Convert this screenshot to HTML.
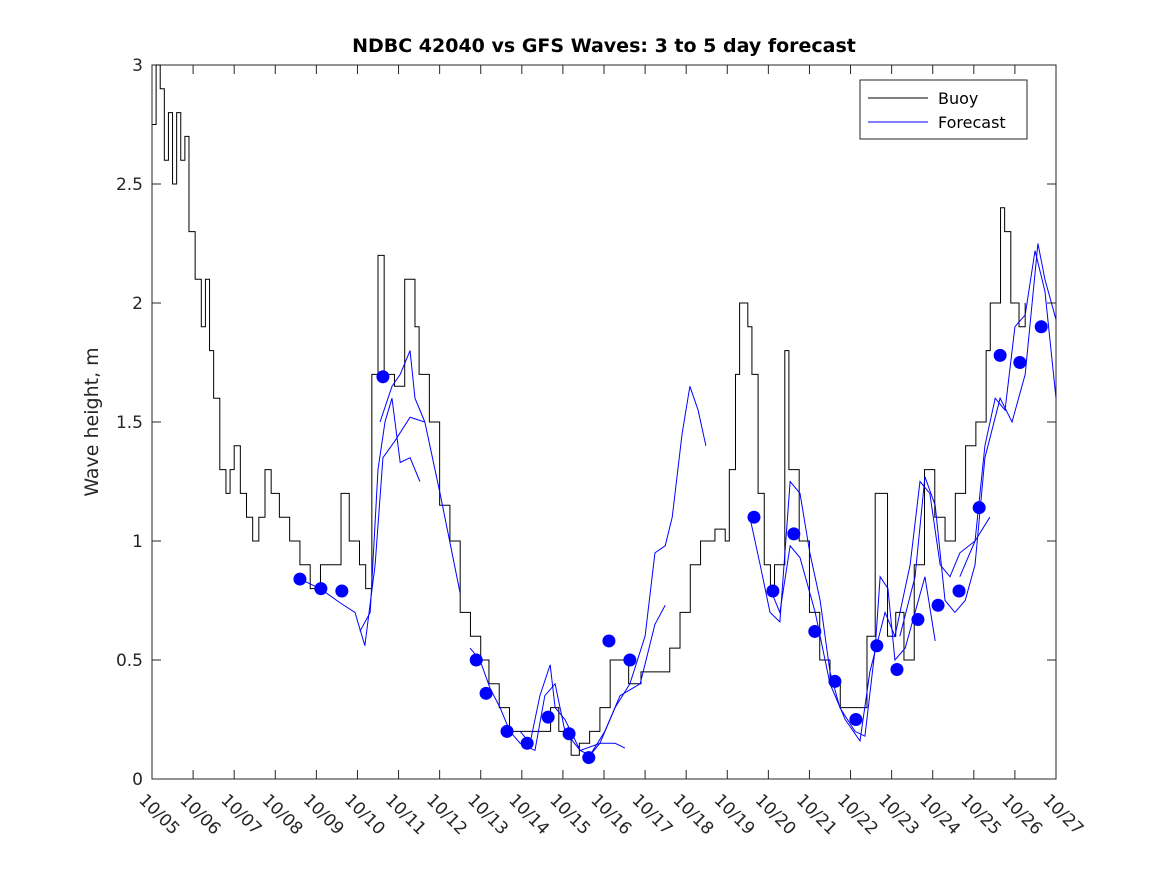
<!DOCTYPE html>
<html><head><meta charset="utf-8"><style>
html,body{margin:0;padding:0;background:#fff;}
svg{display:block;font-family:"DejaVu Sans","Liberation Sans",sans-serif;}
</style></head><body>
<svg id="chart" width="1167" height="875" viewBox="0 0 1167 875">
<rect x="0" y="0" width="1167" height="875" fill="#fff"/>
<text x="604" y="52" text-anchor="middle" font-size="19" font-weight="bold" fill="#000">NDBC 42040 vs GFS Waves: 3 to 5 day forecast</text>
<text transform="translate(98,422) rotate(-90)" text-anchor="middle" font-size="19" fill="#262626">Wave height, m</text>
<g id="plot"></g>
</svg>
<script>
const tickLabels=["10/05","10/06","10/07","10/08","10/09","10/10","10/11","10/12","10/13","10/14","10/15","10/16","10/17","10/18","10/19","10/20","10/21","10/22","10/23","10/24","10/25","10/26","10/27"];
const yTicks=[0,0.5,1,1.5,2,2.5,3];
const yTickLabels=["0","0.5","1","1.5","2","2.5","3"];
const buoyDays=[0,0.1,0.2,0.3,0.4,0.5,0.6,0.7,0.8,0.9,1.05,1.2,1.3,1.4,1.5,1.65,1.8,1.9,2.0,2.15,2.3,2.45,2.6,2.75,2.9,3.1,3.35,3.6,3.85,4.1,4.3,4.6,4.8,5.05,5.2,5.35,5.5,5.65,5.9,6.15,6.4,6.5,6.75,7.0,7.25,7.5,7.75,8.0,8.2,8.45,8.7,8.95,9.45,9.7,9.9,10.2,10.4,10.65,10.9,11.15,11.4,11.6,11.9,12.4,12.6,12.85,13.1,13.35,13.7,13.95,14.05,14.2,14.3,14.5,14.6,14.75,14.9,15.05,15.15,15.4,15.5,15.75,16.0,16.25,16.5,16.75,17.0,17.2,17.4,17.6,17.75,17.9,18.1,18.3,18.55,18.8,19.05,19.3,19.55,19.8,20.05,20.3,20.4,20.65,20.75,20.9,21.1,21.25];
const buoyVals=[2.75,3.0,2.9,2.6,2.8,2.5,2.8,2.6,2.7,2.3,2.1,1.9,2.1,1.8,1.6,1.3,1.2,1.3,1.4,1.2,1.1,1.0,1.1,1.3,1.2,1.1,1.0,0.9,0.8,0.9,0.9,1.2,1.0,0.9,0.8,1.7,2.2,1.7,1.65,2.1,1.9,1.7,1.5,1.15,1.0,0.7,0.6,0.5,0.4,0.3,0.2,0.2,0.2,0.3,0.2,0.1,0.15,0.2,0.3,0.5,0.5,0.4,0.45,0.45,0.55,0.7,0.9,1.0,1.05,1.0,1.3,1.7,2.0,1.9,1.7,1.2,0.9,0.8,0.9,1.8,1.3,1.0,0.7,0.5,0.4,0.3,0.3,0.3,0.6,1.2,1.2,0.6,0.7,0.5,0.9,1.3,1.1,1.0,1.2,1.4,1.5,1.8,2.0,2.4,2.3,2.0,1.9,2.0];
const fcADays=[3.60,4.09,4.58,4.94,5.18,5.43,5.62,5.91,6.28,6.64,7.01,7.50];
const fcAVals=[0.84,0.80,0.74,0.70,0.56,0.90,1.35,1.42,1.52,1.50,1.20,0.78];
const fcBDays=[5.06,5.31,5.50,5.67,5.84,6.04,6.28,6.52];
const fcBVals=[0.62,0.70,1.30,1.50,1.60,1.33,1.35,1.25];
const fcCDays=[5.55,5.84,6.04,6.28,6.40,6.64];
const fcCVals=[1.50,1.65,1.70,1.80,1.60,1.50];
const fcDDays=[7.74,7.98,8.23,8.47,8.71,8.96,9.32,9.56,9.81,10.05,10.42,10.66,10.90,11.27,11.51];
const fcDVals=[0.55,0.50,0.38,0.30,0.20,0.15,0.12,0.35,0.40,0.20,0.12,0.10,0.15,0.15,0.13];
const fcEDays=[8.96,9.20,9.44,9.69,9.81,10.05,10.42,10.90,11.27,11.63,12.00,12.24,12.49,12.66,12.90,13.09,13.29,13.48];
const fcEVals=[0.20,0.15,0.35,0.48,0.30,0.25,0.12,0.15,0.30,0.40,0.60,0.95,0.98,1.10,1.45,1.65,1.55,1.40];
const fcFDays=[10.66,11.02,11.39,11.88,12.24,12.49];
const fcFVals=[0.10,0.20,0.35,0.40,0.65,0.73];
const fcGDays=[14.55,14.80,15.04,15.28,15.53,15.77,16.01,16.26,16.50,16.74,17.11,17.35,17.60,17.72,17.91,18.08,18.33,18.57,18.81,19.06];
const fcGVals=[1.10,0.90,0.70,0.66,1.25,1.20,0.95,0.75,0.45,0.30,0.20,0.18,0.55,0.85,0.80,0.50,0.55,0.70,0.85,0.58];
const fcHDays=[15.04,15.28,15.53,15.77,16.14,16.50,16.87,17.23,17.47,17.84,18.08,18.45,18.69,18.93,19.18,19.42,19.66,20.03,20.27,20.52,20.76,21.00,21.25,21.49,21.73,22.0];
const fcHVals=[0.80,0.70,0.98,0.93,0.70,0.40,0.25,0.16,0.45,0.70,0.60,0.90,1.25,1.20,0.90,0.85,0.95,1.00,1.40,1.60,1.55,1.90,1.95,2.22,2.05,1.60];
const fcIDays=[18.20,18.57,18.81,19.06,19.30,19.54,19.79,20.03,20.27,20.64,20.93,21.25,21.56,21.73,22.0];
const fcIVals=[0.60,0.85,1.27,1.15,0.75,0.70,0.75,0.90,1.35,1.60,1.50,1.70,2.25,2.10,1.93];
const fcJDays=[19.66,20.03,20.39];
const fcJVals=[0.85,1.00,1.10];
const dotDays=[3.60,4.11,4.62,5.62,7.89,8.13,8.64,9.13,9.64,10.15,10.63,11.12,11.63,14.65,15.11,15.62,16.13,16.62,17.13,17.64,18.13,18.64,19.13,19.64,20.13,20.64,21.12,21.64];
const dotVals=[0.84,0.80,0.79,1.69,0.50,0.36,0.20,0.15,0.26,0.19,0.09,0.58,0.50,1.10,0.79,1.03,0.62,0.41,0.25,0.56,0.46,0.67,0.73,0.79,1.14,1.78,1.75,1.90];

const X0=152,X1=1056,Y0=779,Y1=65;
const xs=d=>X0+d*(X1-X0)/22;
const ys=v=>Y0-v*(Y0-Y1)/3;
const NS="http://www.w3.org/2000/svg";
const g=document.getElementById('plot');
function mk(t,a){const e=document.createElementNS(NS,t);for(const k in a)e.setAttribute(k,a[k]);g.appendChild(e);return e;}

const frame=mk('rect',{x:X0,y:Y1,width:X1-X0,height:Y0-Y1,fill:'none',stroke:'#262626','stroke-width':1});


tickLabels.forEach((lab,i)=>{
  const x=xs(i);
  const t1=mk('line',{x1:x,y1:Y0,x2:x,y2:Y0-9,stroke:'#262626'});
  
  
  const t2=mk('line',{x1:x,y1:Y1,x2:x,y2:Y1+9,stroke:'#262626'});
  
  
  const tx=mk('text',{transform:`translate(${x-14},${Y0+22}) rotate(45)`,'font-size':17,fill:'#262626'});
  tx.textContent=lab;
  
  
});
yTicks.forEach((v,i)=>{
  const y=ys(v);
  const a=mk('line',{x1:X0,y1:y,x2:X0+9,y2:y,stroke:'#262626'});
  
  
  const b=mk('line',{x1:X1,y1:y,x2:X1-9,y2:y,stroke:'#262626'});
  
  
  const tx=mk('text',{x:X0-9,y:y+6,'text-anchor':'end','font-size':17,fill:'#262626'});
  tx.textContent=yTickLabels[i];
  
  
});
// buoy step line
let p='';
buoyDays.forEach((d,i)=>{
  const x=xs(d),y=ys(buoyVals[i]);
  if(i===0)p+=`M${x},${y}`;else p+=`H${x}V${y}`;
});
const bl=mk('path',{d:p,fill:'none',stroke:'#000','stroke-width':1});


const series=[[fcADays,fcAVals],[fcBDays,fcBVals],[fcCDays,fcCVals],[fcDDays,fcDVals],[fcEDays,fcEVals],[fcFDays,fcFVals],[fcGDays,fcGVals],[fcHDays,fcHVals],[fcIDays,fcIVals],[fcJDays,fcJVals]];
series.forEach(([ds,vs])=>{
  const pts=ds.map((d,i)=>xs(d)+','+ys(vs[i])).join(' ');
  const l=mk('polyline',{points:pts,fill:'none',stroke:'#0000ff','stroke-width':1});
  
  
});
dotDays.forEach((d,i)=>{
  const c=mk('circle',{cx:xs(d),cy:ys(dotVals[i]),r:6.5,fill:'#0000ff'});
  
  
});
// legend
const lg=mk('rect',{x:860,y:80,width:167,height:59,fill:'#fff',stroke:'#262626'});


const l1=mk('line',{x1:868,y1:98,x2:928,y2:98,stroke:'#000'});


const t1=mk('text',{x:938,y:104,'font-size':16,fill:'#000'});t1.textContent='Buoy';


const l2=mk('line',{x1:868,y1:122,x2:928,y2:122,stroke:'#0000ff'});


const t2=mk('text',{x:938,y:128,'font-size':16,fill:'#000'});t2.textContent='Forecast';


</script>
</body></html>
